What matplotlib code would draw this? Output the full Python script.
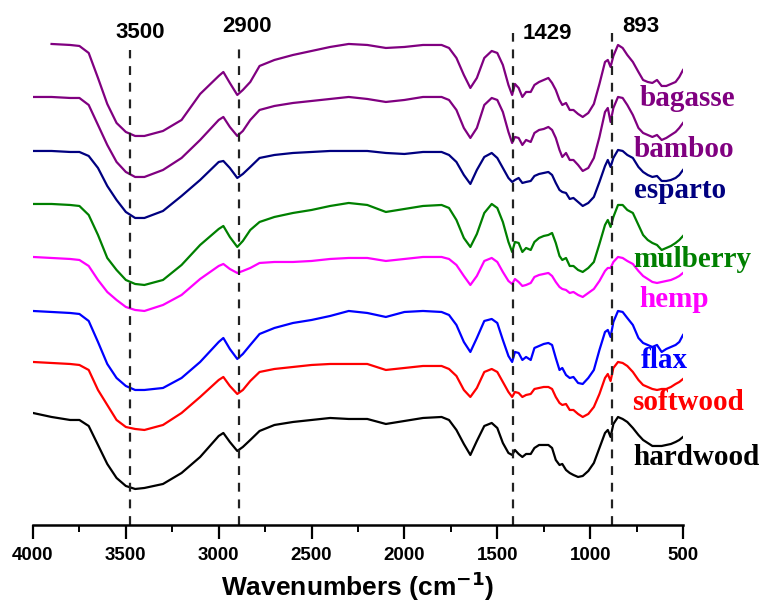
import numpy as np
import matplotlib
matplotlib.use('Agg')
import matplotlib.pyplot as plt
from matplotlib.ticker import MultipleLocator

# Nombres d'onde (cm-1) de la grille commune
wn = [4000, 3900, 3800, 3750, 3700, 3650, 3600, 3550, 3500, 3450, 3400, 3300,
      3200, 3100, 3000, 2975, 2940, 2900, 2870, 2830, 2780, 2700, 2600, 2500,
      2400, 2300, 2200, 2100, 2000, 1900, 1800, 1760, 1720, 1680, 1645, 1610,
      1570, 1530, 1500, 1470, 1440, 1420, 1405, 1385, 1365, 1345, 1320, 1300,
      1275, 1250, 1225, 1205, 1185, 1165, 1150, 1130, 1110, 1090, 1065, 1040,
      1010, 980, 950, 920, 905, 890, 875, 850, 825, 800, 770, 740, 715, 690,
      665, 640, 615, 590, 565, 540, 520, 500]

# Spectres décalés (u.a., axe inversé : valeur haute = bande d'absorption)
bagasse = [np.nan, 44, 45, 46, 53, 78, 104, 123, 132, 136, 136, 131,
           120, 94, 76, 72, 83, 95, 90, 82, 66, 60, 55, 51,
           47, 44, 45, 48, 47, 45, 45, 48, 58, 75, 88, 78,
           58, 51, 53, 65, 85, 95, 84, 88, 97, 92, 92, 85,
           82, 80, 78, 83, 90, 100, 105, 103, 110, 110, 114, 117,
           113, 104, 84, 62, 60, 67, 56, 45, 48, 55, 62, 72, 80, 82,
           83, 80, 86, 86, 84, 82, 77, 70]
bamboo = [97, 97, 98, 98, 105, 125, 145, 162, 172, 177, 177, 170,
          158, 140, 120, 117, 127, 136, 131, 120, 110, 106, 103, 101,
          99, 97, 99, 102, 100, 97, 97, 100, 110, 128, 138, 128,
          105, 98, 100, 112, 132, 143, 137, 138, 145, 140, 142, 133,
          130, 129, 127, 130, 138, 150, 157, 153, 160, 160, 165, 171,
          168, 158, 137, 112, 108, 122, 108, 97, 98, 105, 115, 128, 133, 135,
          137, 135, 140, 138, 135, 132, 128, 123]
esparto = [151, 151, 152, 152, 156, 168, 186, 200, 212, 218, 218, 211,
           196, 180, 162, 161, 168, 178, 174, 167, 158, 155, 153, 152,
           151, 151, 151, 153, 154, 152, 152, 155, 162, 175, 184, 170,
           157, 153, 158, 168, 178, 182, 180, 178, 183, 182, 181, 176,
           174, 173, 172, 175, 183, 190, 192, 193, 199, 198, 202, 206,
           203, 197, 182, 166, 160, 167, 158, 150, 151, 155, 158, 167, 172, 175,
           177, 176, 181, 181, 180, 178, 175, 170]
mulberry = [204, 204, 205, 206, 215, 235, 258, 270, 280, 284, 285, 280,
            265, 245, 229, 226, 237, 247, 241, 230, 222, 217, 213, 210,
            206, 203, 205, 212, 209, 206, 205, 208, 220, 238, 247, 234,
            213, 204, 208, 222, 242, 252, 242, 243, 252, 248, 250, 242,
            238, 236, 235, 233, 243, 256, 260, 258, 266, 266, 270, 272,
            268, 262, 244, 225, 220, 227, 217, 205, 205, 210, 213, 225, 235, 240,
            243, 245, 250, 248, 246, 243, 240, 236]
hemp = [257, 258, 259, 260, 266, 280, 292, 300, 307, 310, 311, 305,
        295, 279, 266, 264, 269, 273, 271, 268, 263, 262, 262, 261,
        259, 258, 258, 261, 259, 257, 257, 259, 265, 276, 285, 276,
        261, 258, 262, 272, 281, 284, 279, 282, 286, 285, 283, 277,
        275, 274, 273, 276, 282, 287, 289, 290, 293, 292, 295, 297,
        293, 289, 281, 271, 268, 268, 262, 257, 258, 261, 264, 271, 276, 279,
        282, 283, 282, 281, 280, 278, 276, 273]
flax = [311, 312, 313, 314, 321, 342, 364, 378, 386, 390, 390, 388,
        378, 362, 342, 338, 349, 359, 354, 345, 334, 328, 323, 320,
        316, 311, 313, 317, 312, 311, 312, 315, 325, 342, 352, 338,
        321, 319, 323, 340, 356, 362, 352, 353, 360, 357, 360, 348,
        346, 344, 343, 345, 358, 370, 368, 375, 378, 377, 383, 384,
        378, 370, 350, 332, 330, 337, 322, 311, 312, 318, 325, 338, 343, 345,
        347, 345, 352, 349, 347, 345, 342, 335]
softwood = [362, 363, 364, 365, 370, 390, 405, 420, 427, 429, 430, 425,
            413, 397, 380, 377, 386, 394, 390, 381, 372, 369, 367, 365,
            364, 364, 364, 370, 368, 366, 366, 369, 376, 390, 397, 388,
            372, 369, 372, 382, 392, 397, 392, 393, 397, 395, 394, 389,
            388, 387, 387, 389, 397, 403, 405, 404, 410, 410, 414, 417,
            414, 407, 394, 378, 374, 381, 368, 362, 363, 366, 372, 380, 385, 387,
            389, 390, 389, 389, 387, 384, 382, 379]
hardwood = [413, 417, 420, 420, 426, 445, 464, 478, 486, 489, 488, 484,
            473, 457, 436, 433, 442, 451, 447, 440, 431, 425, 422, 420,
            418, 419, 419, 424, 421, 418, 417, 420, 430, 444, 455, 441,
            426, 423, 428, 443, 453, 455, 450, 454, 457, 454, 454, 448,
            445, 445, 445, 448, 460, 465, 464, 470, 473, 475, 477, 476,
            471, 463, 448, 433, 430, 437, 424, 417, 419, 422, 428, 435, 440, 443,
            446, 446, 446, 445, 444, 442, 440, 437]

noms     = ['bagasse', 'bamboo', 'esparto', 'mulberry', 'hemp', 'flax', 'softwood', 'hardwood']
couleurs = ['#800080', '#800080', '#000080', '#008000', '#ff00ff', '#0000ff', '#ff0000', '#000000']
spectres = [bagasse, bamboo, esparto, mulberry, hemp, flax, softwood, hardwood]

# Position des étiquettes (x en cm-1, y ligne de base en u.a.)
etiq_x = [478, 494, 516, 451, 548, 602, 473, 430]
etiq_y = [106, 157, 198, 267, 307, 368, 410, 465]

# Bandes caractéristiques : position de la ligne, texte, haut de la ligne
bandes_x     = [3480, 2893, 1414, 881]
bandes_txt   = ['3500', '2900', '1429', '893']
bandes_haut  = [50, 48, 33, 33]
bandes_txt_x = [3424, 2848, 1232, 726]
bandes_txt_y = [38, 32, 39, 32]

fig = plt.figure(figsize=(7.6, 6.06), dpi=100)
ax = fig.add_axes([0.0434, 0.1337, 0.8553, 0.8416])

for vals, nom, coul, ex, ey in zip(spectres, noms, couleurs, etiq_x, etiq_y):
    ax.plot(wn, vals, color=coul, lw=1.6)
    ax.text(ex, ey, nom, color=coul, fontsize=21, fontweight='bold',
            family='Liberation Serif', ha='center', va='baseline', clip_on=False)

for bx, txt, haut, tx, ty in zip(bandes_x, bandes_txt, bandes_haut, bandes_txt_x, bandes_txt_y):
    ax.plot([bx, bx], [525, haut], color='#222222', lw=1.6, ls=(0, (4, 3.5)))
    ax.text(tx, ty, txt, fontsize=16, fontweight='bold', family='Liberation Sans',
            ha='center', va='baseline')

ax.set_xlim(4000, 500)
ax.set_ylim(525, 15)
for s in ['left', 'right', 'top']:
    ax.spines[s].set_visible(False)
ax.spines['bottom'].set_linewidth(1.8)
ax.set_yticks([])
ax.xaxis.set_major_locator(MultipleLocator(500))
ax.xaxis.set_minor_locator(MultipleLocator(250))
ax.tick_params(axis='x', which='major', direction='out', length=10, width=1.6, pad=6)
ax.tick_params(axis='x', which='minor', direction='out', length=5, width=1.4)
for lab in ax.get_xticklabels():
    lab.set_fontweight('bold')
    lab.set_fontsize(13.5)
    lab.set_family('Liberation Sans')
ax.set_xlabel('Wavenumbers (cm$^{\\mathbf{-1}}$)', fontsize=19, fontweight='bold',
              family='Liberation Sans', labelpad=4)

fig.savefig('out.png', dpi=100)
